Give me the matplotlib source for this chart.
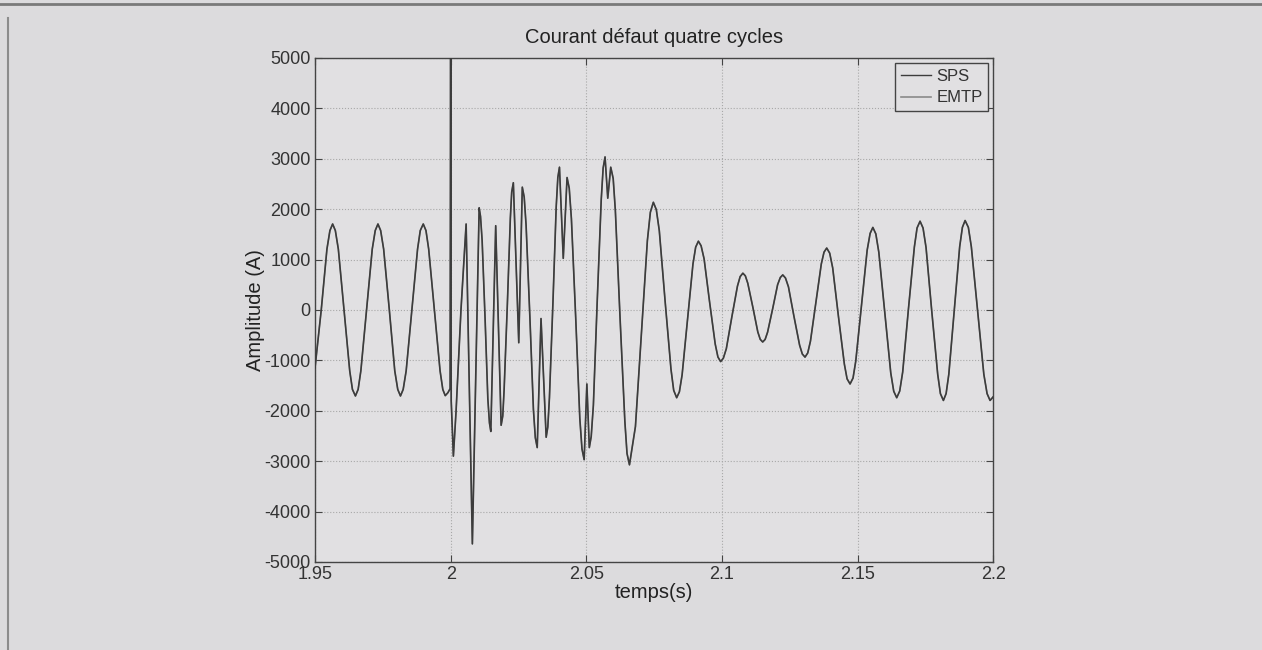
import matplotlib
matplotlib.use("Agg")
import matplotlib.pyplot as plt
from matplotlib.lines import Line2D

plt.rcParams['font.family'] = ['Liberation Sans', 'DejaVu Sans']
plt.rcParams['axes.unicode_minus'] = False

# temps (s) / amplitude (A)
temps = [1.9500, 1.9523, 1.9544, 1.9555, 1.9565, 1.9575, 1.9586, 1.9607, 1.9628,
         1.9638, 1.9649, 1.9659, 1.9669, 1.9690, 1.9711, 1.9722, 1.9732, 1.9742,
         1.9753, 1.9774, 1.9794, 1.9805, 1.9815, 1.9825, 1.9836, 1.9857, 1.9878,
         1.9888, 1.9899, 1.9909, 1.9919, 1.9940, 1.9961, 1.9971, 1.9980, 1.9990,
         1.9998, 2.0000, 2.0002, 2.0010, 2.0020, 2.0038, 2.0057, 2.0080, 2.0105,
         2.0110, 2.0116, 2.0127, 2.0137, 2.0143, 2.0148, 2.0166, 2.0186, 2.0192,
         2.0197, 2.0209, 2.0220, 2.0225, 2.0231, 2.0251, 2.0264, 2.0271, 2.0278,
         2.0292, 2.0305, 2.0312, 2.0319, 2.0333, 2.0352, 2.0358, 2.0364, 2.0377,
         2.0389, 2.0395, 2.0401, 2.0415, 2.0429, 2.0437, 2.0445, 2.0461, 2.0476,
         2.0484, 2.0492, 2.0502, 2.0511, 2.0518, 2.0526, 2.0540, 2.0555, 2.0562,
         2.0569, 2.0579, 2.0590, 2.0599, 2.0607, 2.0624, 2.0642, 2.0650, 2.0659,
         2.0681, 2.0703, 2.0725, 2.0736, 2.0747, 2.0758, 2.0769, 2.0790, 2.0812,
         2.0822, 2.0833, 2.0843, 2.0853, 2.0873, 2.0893, 2.0903, 2.0913, 2.0923,
         2.0934, 2.0954, 2.0975, 2.0985, 2.0995, 2.1005, 2.1016, 2.1036, 2.1057,
         2.1067, 2.1077, 2.1086, 2.1095, 2.1114, 2.1132, 2.1141, 2.1150, 2.1159,
         2.1168, 2.1187, 2.1205, 2.1215, 2.1224, 2.1234, 2.1245, 2.1265, 2.1286,
         2.1296, 2.1306, 2.1316, 2.1326, 2.1346, 2.1366, 2.1376, 2.1386, 2.1397,
         2.1408, 2.1429, 2.1451, 2.1461, 2.1472, 2.1483, 2.1493, 2.1514, 2.1535,
         2.1546, 2.1556, 2.1567, 2.1578, 2.1600, 2.1622, 2.1633, 2.1644, 2.1655,
         2.1666, 2.1687, 2.1709, 2.1719, 2.1730, 2.1741, 2.1752, 2.1773, 2.1795,
         2.1805, 2.1816, 2.1826, 2.1836, 2.1856, 2.1876, 2.1886, 2.1896, 2.1908,
         2.1919, 2.1942, 2.1965, 2.1977, 2.1988, 2.2000]
amplitude = [-1150, 0, 1208, 1576, 1706, 1576, 1208, 0, -1208,
             -1576, -1706, -1576, -1208, 0, 1208, 1576, 1706, 1576,
             1208, 0, -1208, -1576, -1706, -1576, -1208, 0, 1208,
             1576, 1706, 1576, 1208, 0, -1208, -1576, -1700, -1640,
             -1560, 5200, -1800, -2900, -2000, 0, 1706, -4640, 2027,
             1858, 1379, -192, -1762, -2241, -2410, 1672, -2287, -2104,
             -1584, 119, 1822, 2342, 2525, -650, 2437, 2241, 1683,
             -147, -1975, -2534, -2730, -170, -2525, -2321, -1743, 154,
             2051, 2629, 2833, 1024, 2628, 2415, 1811, -171, -2153,
             -2757, -2970, -1468, -2730, -2511, -1888, 153, 2195, 2818,
             3037, 2218, 2833, 2609, 1971, -120, -2210, -2848, -3072,
             -2312, -468, 1377, 1939, 2137, 1990, 1571, 198, -1175,
             -1594, -1741, -1623, -1288, -188, 912, 1247, 1365, 1274,
             1016, 171, -675, -933, -1024, -957, -768, -147, 474,
             663, 730, 678, 531, 48, -436, -583, -635, -584,
             -441, 31, 502, 645, 696, 634, 458, -120, -697,
             -873, -935, -853, -619, 147, 913, 1147, 1229, 1127,
             835, -120, -1074, -1366, -1468, -1350, -1015, 85, 1185,
             1520, 1638, 1510, 1145, -52, -1248, -1613, -1741, -1608,
             -1230, 10, 1250, 1628, 1761, 1626, 1242, -17, -1276,
             -1660, -1795, -1659, -1274, -10, 1254, 1639, 1775, 1639,
             1254, -10, -1274, -1659, -1795, -1720]

xticks = [1.95, 2.0, 2.05, 2.1, 2.15, 2.2]
xtick_labels = ['1.95', '2', '2.05', '2.1', '2.15', '2.2']
yticks = [-5000, -4000, -3000, -2000, -1000, 0, 1000, 2000, 3000, 4000, 5000]

fig = plt.figure(figsize=(12.62, 6.5), dpi=100, facecolor='#dcdbdd')
ax = fig.add_axes([0.2496, 0.1354, 0.5375, 0.7754])
ax.set_facecolor('#e1e0e2')

# paper edges visible in the scan (left and top only)
fig.add_artist(Line2D([8 / 1262, 8 / 1262], [0, 632 / 650],
                      transform=fig.transFigure, color='#8c8c8c', lw=1.5))
fig.add_artist(Line2D([0, 1], [646 / 650, 646 / 650],
                      transform=fig.transFigure, color='#7a7a7a', lw=2))

ax.plot(temps, amplitude, color='#8a8a8a', lw=1.0, label='SPS', zorder=2)
ax.plot(temps, amplitude, color='#3c3c3c', lw=1.2, label='EMTP', zorder=3)

ax.set_xlim(1.95, 2.2)
ax.set_ylim(-5000, 5000)
ax.set_xticks(xticks)
ax.set_xticklabels(xtick_labels)
ax.set_yticks(yticks)
ax.tick_params(direction='in', top=True, right=True, labelsize=13,
               length=5, color='#444444', labelcolor='#333333', pad=3)
ax.grid(True, linestyle=':', color='#a8a8a8', lw=0.8)
for s in ax.spines.values():
    s.set_color('#444444')
    s.set_linewidth(1.0)

ax.set_title('Courant défaut quatre cycles', fontsize=14.5, color='#222222', pad=11)
ax.set_xlabel('temps(s)', fontsize=14.5, color='#222222', labelpad=0)
ax.set_ylabel('Amplitude (A)', fontsize=14.5, color='#222222', labelpad=0)

leg = ax.legend(['SPS', 'EMTP'], loc='upper right', fontsize=12,
                fancybox=False, framealpha=1, facecolor='#e1e0e2',
                edgecolor='#444444', handlelength=1.8, borderaxespad=0.3,
                borderpad=0.35, labelspacing=0.4, handletextpad=0.3)
leg.legend_handles[0].set_color('#3c3c3c')
leg.legend_handles[1].set_color('#8a8a8a')
for t in leg.get_texts():
    t.set_color('#333333')

fig.savefig('out.png', dpi=100, facecolor=fig.get_facecolor())
